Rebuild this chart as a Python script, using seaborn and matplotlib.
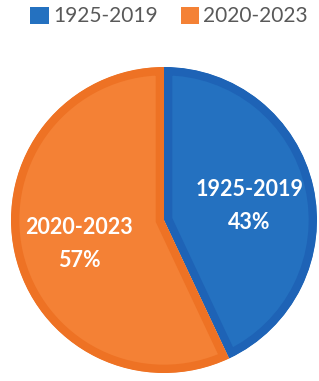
import seaborn as sns
import matplotlib.pyplot as plt
from matplotlib.patches import Patch

periods = ['1925-2019', '2020-2023']
shares = [43, 57]

face_colors = ['#2471C0', '#F48135']
edge_colors = ['#1E63B6', '#EE7224']

sns.set_theme(style='white')
plt.rcParams['font.family'] = ['Lato', 'DejaVu Sans']

fig = plt.figure(figsize=(3.19, 3.81), dpi=100)
ax = fig.add_axes([11 / 319, 8 / 381, 306 / 319, 306 / 381])

wedges, texts, autotexts = ax.pie(
    shares,
    colors=face_colors,
    startangle=90,
    counterclock=False,
    autopct=lambda p: '',
    pctdistance=0.57,
    wedgeprops=dict(linewidth=12, linestyle='-'),
)

# darker border drawn only on the inside of each slice
for w, ec in zip(wedges, edge_colors):
    w.set_edgecolor(ec)
    w.set_clip_path(w)
    w.set_clip_on(True)

for t, name, val in zip(autotexts, periods, shares):
    t.set_text(f'{name}\n{val}%')
    t.set_color('white')
    t.set_fontweight('bold')
    t.set_fontsize(15.5)
    t.set_linespacing(1.7)
    x, y = t.get_position()
    t.set_position((x, y - 0.032))

ax.set_xlim(-1, 1)
ax.set_ylim(-1, 1)
ax.set_aspect('equal')

handles = [Patch(facecolor=c, edgecolor='none') for c in face_colors]
fig.legend(handles, periods, loc='center', bbox_to_anchor=(0.53, 0.957), ncol=2,
           frameon=False, fontsize=15, handlelength=0.9, handleheight=0.9,
           handletextpad=0.2, columnspacing=1.1, labelcolor='#595959')

fig.savefig('out.png', dpi=100)
